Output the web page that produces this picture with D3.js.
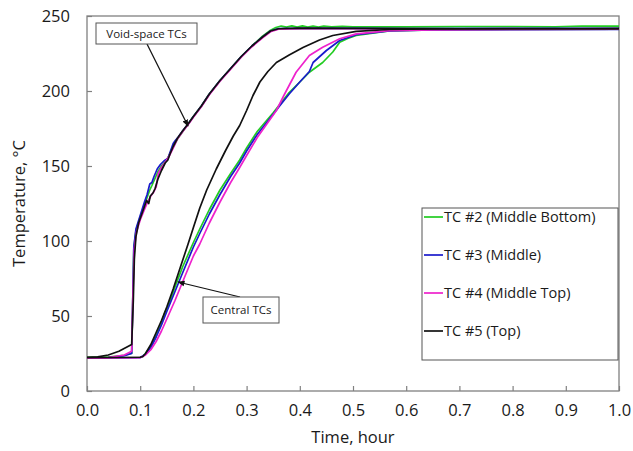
<!DOCTYPE html>
<html>
<head>
<meta charset="utf-8">
<script src="https://cdn.jsdelivr.net/npm/d3@7"></script>
<style>
  html, body { margin: 0; padding: 0; background: #fff; }
  svg { display: block; font-family: "Open Sans", "Noto Sans", sans-serif; }
</style>
</head>
<body>
<svg id="chart" width="633" height="451"></svg>
<script>
// Thermocouple readings: [time (hour), temperature (°C)]
// Void-space thermocouples
const tc2Void = [[0,22.3],[0.04,22.6],[0.07,23.8],[0.084,25.2],[0.086,60],[0.088,95],[0.092,107],[0.1,116],[0.108,124],[0.113,129],[0.118,134],[0.122,137],[0.127,141],[0.133,146],[0.14,150],[0.147,153],[0.153,156],[0.158,160],[0.164,164],[0.17,168],[0.18,173],[0.19,178],[0.2,183],[0.215,190],[0.23,198],[0.25,207],[0.27,215],[0.29,223],[0.31,230],[0.33,236.5],[0.345,240.5],[0.355,242.3],[0.365,243.3],[0.375,242.6],[0.385,243.4],[0.395,242.6],[0.405,243.4],[0.415,242.6],[0.425,243.3],[0.435,242.6],[0.445,243.2],[0.46,242.7],[0.48,243.1],[0.5,242.8],[0.6,242.8],[0.7,242.9],[0.8,243],[0.88,242.8],[0.93,243.3],[1.0,243.2]];
const tc3Void = [[0,22],[0.04,22.3],[0.07,23.5],[0.084,25],[0.086,60],[0.088,96],[0.092,108],[0.1,117],[0.108,126],[0.113,131],[0.118,138],[0.122,139],[0.126,143],[0.132,148],[0.138,151],[0.145,153.5],[0.152,155],[0.157,160],[0.162,165],[0.166,167],[0.172,169.5],[0.18,173.5],[0.19,178],[0.2,183],[0.215,190],[0.23,198],[0.25,207],[0.27,215],[0.29,223],[0.31,230],[0.33,236],[0.345,240],[0.36,241.6],[0.4,241.8],[0.5,241.8],[0.6,241.6],[0.8,241.7],[1.0,241.7]];
const tc4Void = [[0,22],[0.04,22.3],[0.07,24],[0.084,26.5],[0.086,60],[0.089,95],[0.093,106],[0.1,114],[0.108,121],[0.114,126],[0.12,130],[0.126,133],[0.13,136],[0.134,145],[0.14,149],[0.148,153],[0.155,157],[0.162,162],[0.17,168],[0.18,173],[0.19,177.5],[0.2,182.5],[0.215,189.5],[0.23,197.5],[0.25,206.5],[0.27,214.5],[0.29,222.5],[0.31,229.5],[0.33,235.5],[0.345,239.5],[0.36,241.2],[0.4,241.5],[0.5,241.5],[0.6,241.3],[0.8,241.4],[1.0,241.4]];
const tc5Void = [[0,22.5],[0.02,22.8],[0.04,24],[0.06,26.5],[0.084,31],[0.087,60],[0.089,88],[0.092,103],[0.097,112],[0.105,120],[0.112,127],[0.116,125],[0.119,130],[0.124,132],[0.128,135],[0.133,141],[0.14,147],[0.147,152],[0.152,154],[0.156,158],[0.162,163],[0.17,168.5],[0.18,173.5],[0.19,178],[0.2,183],[0.215,190],[0.23,198],[0.25,207],[0.27,215],[0.29,223],[0.31,230],[0.33,236],[0.345,240],[0.36,241.5],[0.4,241.9],[0.5,241.8],[0.6,241.6],[0.7,241.5],[0.8,241.6],[0.9,241.5],[1.0,241.6]];

// Central thermocouples
const tc2Central = [[0,22.3],[0.1,22.5],[0.105,23],[0.11,25],[0.12,30],[0.13,37],[0.14,45],[0.146,52],[0.155,59],[0.165,69],[0.18,83],[0.2,99],[0.212,108],[0.23,121],[0.25,134],[0.27,145],[0.287,154],[0.3,162],[0.32,173],[0.35,185.5],[0.38,199],[0.4,206],[0.418,212.5],[0.443,219],[0.462,226],[0.475,232.5],[0.49,235],[0.506,237],[0.568,240],[0.65,240.8],[0.8,241],[1.0,241.3]];
const tc3Central = [[0,22],[0.1,22.3],[0.11,24.5],[0.12,29],[0.13,36],[0.14,44],[0.15,53],[0.165,66],[0.18,79],[0.2,96],[0.212,105],[0.23,118],[0.25,131],[0.27,143],[0.287,152],[0.3,160],[0.32,171],[0.35,184.5],[0.362,190],[0.38,198],[0.4,206],[0.418,213],[0.425,219],[0.45,227],[0.475,233.7],[0.506,237.5],[0.568,240],[0.65,240.7],[0.8,240.9],[1.0,241]];
const tc4Central = [[0,22],[0.1,22.2],[0.11,24],[0.12,27.5],[0.13,33],[0.14,40],[0.15,48],[0.165,60],[0.18,73],[0.2,90],[0.212,98],[0.23,112],[0.25,126],[0.27,139],[0.287,149],[0.3,157],[0.32,169],[0.34,179],[0.356,187],[0.37,197],[0.393,212.5],[0.418,223.7],[0.443,229.2],[0.475,234.8],[0.506,238.1],[0.568,240.3],[0.65,240.8],[0.8,241],[1.0,241.2]];
const tc5Central = [[0,22.3],[0.1,22.5],[0.105,23],[0.11,25],[0.115,28],[0.12,31],[0.13,39],[0.14,47],[0.15,56],[0.162,68],[0.175,82],[0.19,98],[0.2,109],[0.212,122],[0.225,134],[0.243,148],[0.26,160],[0.275,170],[0.287,177],[0.3,187],[0.312,197],[0.325,206],[0.34,213],[0.356,219],[0.38,224],[0.406,229],[0.437,234],[0.462,237],[0.506,239.7],[0.568,241],[0.65,241.4],[0.8,241.5],[1.0,241.6]];

const seriesNames = ["TC #2 (Middle Bottom)", "TC #3 (Middle)", "TC #4 (Middle Top)", "TC #5 (Top)"];
const seriesColors = ["#22cc22", "#1a1acc", "#ee22cc", "#111111"];
const xTicks = [0, 0.1, 0.2, 0.3, 0.4, 0.5, 0.6, 0.7, 0.8, 0.9, 1.0];
const yTicks = [0, 50, 100, 150, 200, 250];

const series = [
  { name: seriesNames[0], color: seriesColors[0], parts: [tc2Void, tc2Central] },
  { name: seriesNames[1], color: seriesColors[1], parts: [tc3Void, tc3Central] },
  { name: seriesNames[2], color: seriesColors[2], parts: [tc4Void, tc4Central] },
  { name: seriesNames[3], color: seriesColors[3], parts: [tc5Void, tc5Central] }
];

const svg = d3.select("#chart");
const m = { left: 87, right: 14, top: 16, bottom: 60 };
const W = 633, H = 451;
const pw = W - m.left - m.right, ph = H - m.top - m.bottom;

const x = d3.scaleLinear().domain([0, 1]).range([m.left, m.left + pw]);
const y = d3.scaleLinear().domain([0, 250]).range([m.top + ph, m.top]);

const axisColor = "#808080";

// Axes with inward ticks
const gx = svg.append("g")
  .attr("transform", `translate(0,${m.top + ph})`)
  .call(d3.axisBottom(x).tickValues(xTicks).tickFormat(d3.format(".1f")).tickSize(-5).tickPadding(13));
const gy = svg.append("g")
  .attr("transform", `translate(${m.left},0)`)
  .call(d3.axisLeft(y).tickValues(yTicks).tickSize(-5).tickPadding(17));
[gx, gy].forEach(g => {
  g.select(".domain").remove();
  g.selectAll(".tick line").attr("stroke", axisColor).attr("stroke-width", 1.2);
  g.selectAll(".tick text").attr("fill", "#1a1a1a").style("font-size", "16.5px").style("font-family", "\"Open Sans\", sans-serif");
});

// Plot frame
svg.append("rect")
  .attr("x", m.left).attr("y", m.top).attr("width", pw).attr("height", ph)
  .attr("fill", "none").attr("stroke", axisColor).attr("stroke-width", 1.3);

// Curves
const line = d3.line().x(d => x(d[0])).y(d => y(d[1]));
const plot = svg.append("g");
series.forEach(s => {
  s.parts.forEach(p => {
    plot.append("path").datum(p)
      .attr("d", line)
      .attr("fill", "none")
      .attr("stroke", s.color)
      .attr("stroke-width", 1.7)
      .attr("stroke-linejoin", "round");
  });
});

// Axis titles
svg.append("text")
  .attr("x", m.left + pw / 2).attr("y", 443)
  .attr("text-anchor", "middle")
  .style("font-size", "16.5px").attr("fill", "#1a1a1a")
  .text("Time, hour");
svg.append("text")
  .attr("transform", `translate(25,${m.top + ph / 2}) rotate(-90)`)
  .attr("text-anchor", "middle")
  .style("font-size", "16.5px").attr("fill", "#1a1a1a")
  .text("Temperature, °C");

// Legend
const lg = svg.append("g");
lg.append("rect")
  .attr("x", 422).attr("y", 208).attr("width", 196).attr("height", 152)
  .attr("fill", "#fff").attr("stroke", "#555").attr("stroke-width", 1);
series.forEach((s, i) => {
  const cy = 217 + i * 38;
  lg.append("line")
    .attr("x1", 424).attr("x2", 443).attr("y1", cy).attr("y2", cy)
    .attr("stroke", s.color).attr("stroke-width", 1.7);
  lg.append("text")
    .attr("x", 444).attr("y", cy).attr("dy", "0.35em")
    .style("font-size", "14.5px").attr("fill", "#1a1a1a")
    .text(s.name);
});

// Annotations
const defs = svg.append("defs");
defs.append("marker")
  .attr("id", "arrowhead").attr("viewBox", "0 0 10 10")
  .attr("refX", 9).attr("refY", 5)
  .attr("markerWidth", 6).attr("markerHeight", 6)
  .attr("orient", "auto")
  .append("path").attr("d", "M0,1 L10,5 L0,9 Z").attr("fill", "#111");

function callout(bx, by, bw, bh, label, x1, y1, x2, y2) {
  const g = svg.append("g");
  g.append("line")
    .attr("x1", x1).attr("y1", y1).attr("x2", x2).attr("y2", y2)
    .attr("stroke", "#111").attr("stroke-width", 1.2)
    .attr("marker-end", "url(#arrowhead)");
  g.append("rect")
    .attr("x", bx).attr("y", by).attr("width", bw).attr("height", bh)
    .attr("fill", "#fff").attr("stroke", "#555").attr("stroke-width", 1);
  g.append("text")
    .attr("x", bx + bw / 2).attr("y", by + bh / 2).attr("dy", "0.35em")
    .attr("text-anchor", "middle")
    .style("font-size", "11.5px").attr("fill", "#1a1a1a")
    .text(label);
}
callout(96, 23, 101, 21, "Void-space TCs", 147, 44, 188, 126);
callout(203, 297, 76, 26, "Central TCs", 240, 297, 178, 282);
</script>
</body>
</html>
